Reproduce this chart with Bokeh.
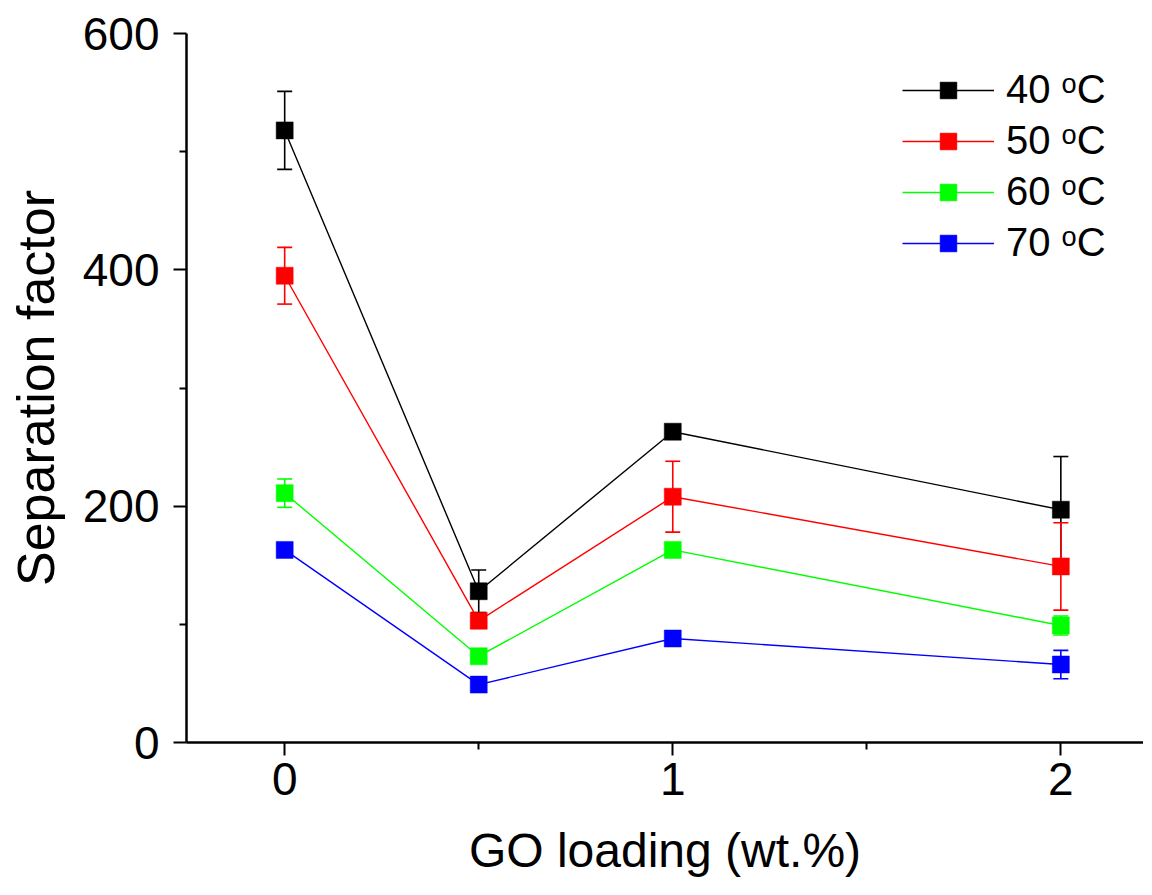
from bokeh.plotting import figure
from bokeh.models import ColumnDataSource, Whisker, TeeHead, FixedTicker, Legend, LegendItem, Range1d
from bokeh.embed import file_html
from bokeh.resources import INLINE

# ---- data ----
go_loading = [0, 0.5, 1, 2]
series_names = ["40 \u1d52C", "50 \u1d52C", "60 \u1d52C", "70 \u1d52C"]
colors = ["#000000", "#ff0000", "#00ff00", "#0000ff"]
sf_40 = [518, 128, 263, 197]
sf_50 = [395, 103, 208, 149]
sf_60 = [211, 73, 163, 99]
sf_70 = [163, 49, 88, 66]
err_40 = [33, 18, 4, 45]
err_50 = [24, 4, 30, 37]
err_60 = [12, 4, 4, 8]
err_70 = [4, 3, 4, 12]
values = [sf_40, sf_50, sf_60, sf_70]
errors = [err_40, err_50, err_60, err_70]
x_ticks = [0, 1, 2]
x_minor = [0.5, 1.5]
y_ticks = [0, 200, 400, 600]
y_minor = [100, 300, 500]

FONT = "Liberation Sans"

p = figure(width=1143, height=879, output_backend="svg", toolbar_location=None,
           x_range=Range1d(-0.253, 2.213), y_range=Range1d(0, 600),
           min_border_left=186, min_border_right=0, min_border_top=33, min_border_bottom=136)
p.outline_line_color = None
p.grid.visible = False
p.background_fill_color = "white"
p.border_fill_color = "white"

sources = []
for v, e in zip(values, errors):
    sources.append(ColumnDataSource(dict(
        x=go_loading, y=v,
        upper=[a + b for a, b in zip(v, e)],
        lower=[a - b for a, b in zip(v, e)])))

line_r = []
for src, c in zip(sources, colors):
    line_r.append(p.line("x", "y", source=src, line_color=c, line_width=1.4))
mark_r = []
for src, c in zip(sources, colors):
    mark_r.append(p.scatter("x", "y", source=src, marker="square", size=17,
                            fill_color=c, line_color=c, line_width=0.5))
for src, c in zip(sources, colors):
    w = Whisker(source=src, base="x", upper="upper", lower="lower",
                line_color=c, line_width=1.6,
                upper_head=TeeHead(size=15, line_color=c, line_width=1.6),
                lower_head=TeeHead(size=15, line_color=c, line_width=1.6))
    p.add_layout(w)

# axes
p.xaxis.ticker = FixedTicker(ticks=x_ticks, minor_ticks=x_minor)
p.yaxis.ticker = FixedTicker(ticks=y_ticks, minor_ticks=y_minor)
for ax in (p.xaxis, p.yaxis):
    ax.axis_line_width = 2.5
    ax.axis_line_color = "black"
    ax.major_tick_line_width = 2
    ax.minor_tick_line_width = 2
    ax.major_tick_line_color = "black"
    ax.minor_tick_line_color = "black"
    ax.major_tick_in = 0
    ax.major_tick_out = 13
    ax.minor_tick_in = 0
    ax.minor_tick_out = 7
    ax.major_label_text_font = FONT
    ax.axis_label_text_font = FONT
    ax.axis_label_text_font_style = "normal"
    ax.major_label_text_color = "black"
    ax.axis_label_text_color = "black"

p.xaxis.axis_label = "GO loading (wt.%)"
p.yaxis.axis_label = "Separation factor"
p.xaxis.major_label_text_font_size = "46px"
p.yaxis.major_label_text_font_size = "46px"
p.xaxis.axis_label_text_font_size = "48px"
p.yaxis.axis_label_text_font_size = "52px"
p.xaxis.major_label_standoff = 7
p.yaxis.major_label_standoff = 14
p.xaxis.axis_label_standoff = 26
p.yaxis.axis_label_standoff = 15

items = [LegendItem(label=n, renderers=[lr, mr]) for n, lr, mr in zip(series_names, line_r, mark_r)]
legend = Legend(items=items, location=(716, 477), glyph_width=92, glyph_height=42,
                label_height=42, spacing=6, padding=0, margin=0,
                label_text_font=FONT, label_text_font_size="40px",
                label_text_color="black",
                label_standoff=12, border_line_color=None, background_fill_alpha=0)
p.add_layout(legend)

open("out.html", "w").write(file_html(p, INLINE))
